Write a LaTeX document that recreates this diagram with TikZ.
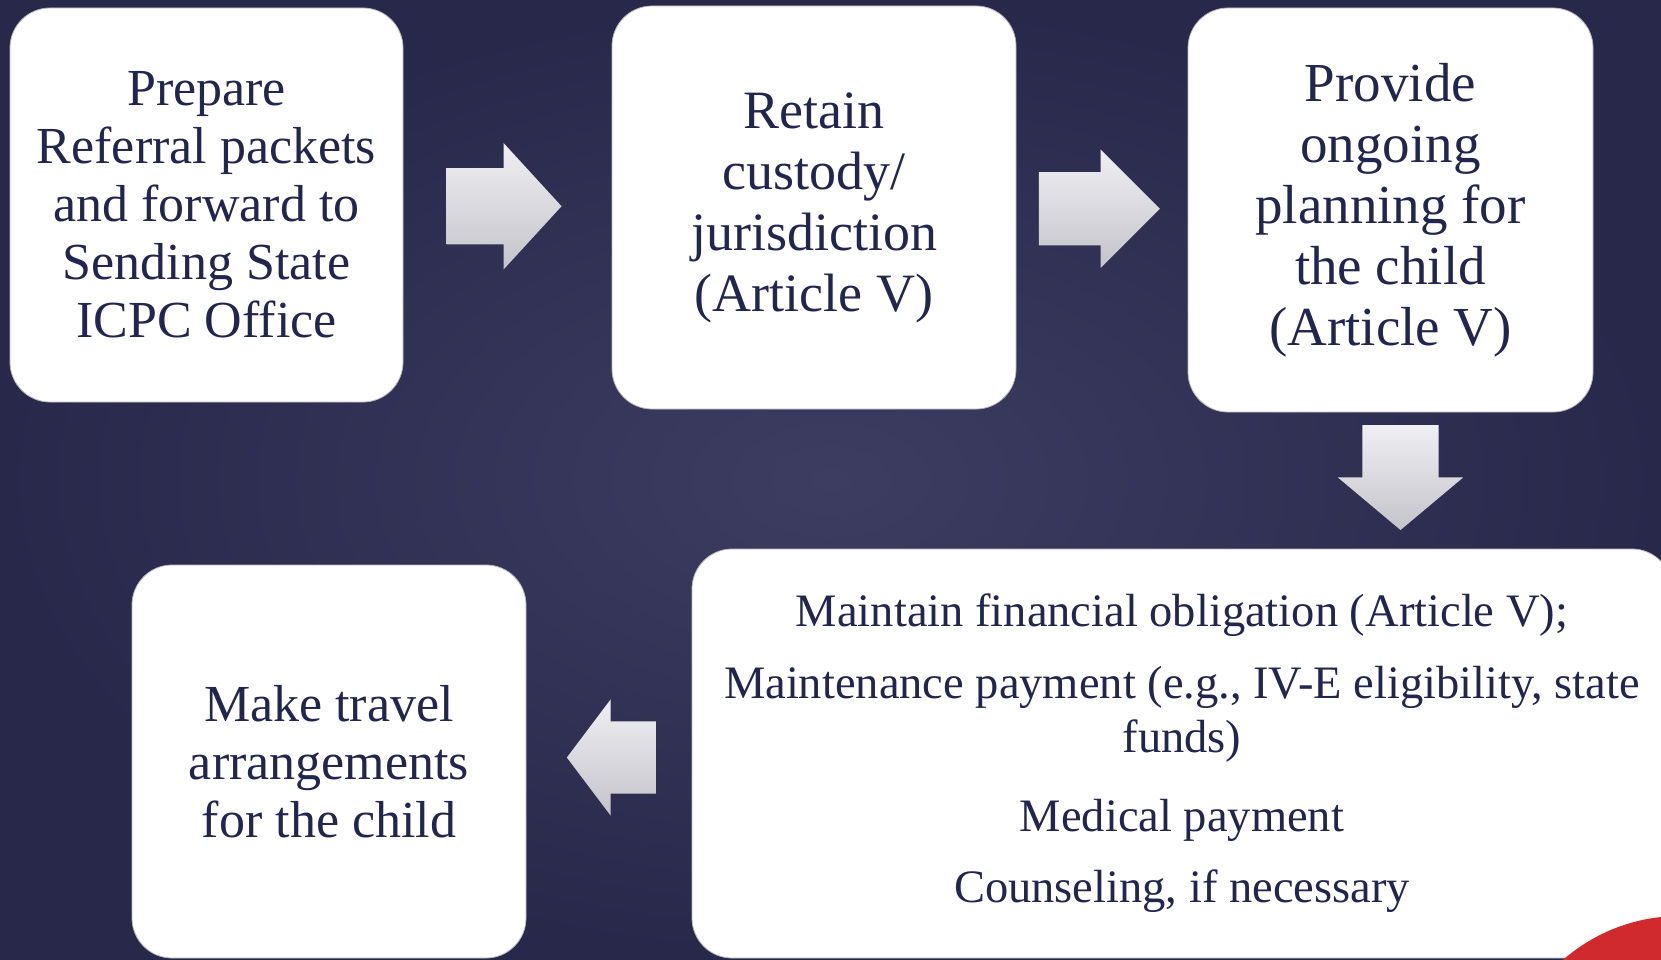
\documentclass[tikz,border=0pt]{standalone}
\usepackage{fontspec}
\setmainfont{Liberation Serif}
\usetikzlibrary{shapes.arrows,calc}
\definecolor{icpcBgDark}{HTML}{28284B}
\definecolor{icpcBgLight}{HTML}{3D3D61}
\definecolor{icpcNavy}{HTML}{22264F}
\definecolor{icpcArrowTop}{HTML}{EFEFF3}
\definecolor{icpcArrowBottom}{HTML}{C3C3CA}
\definecolor{icpcRed}{HTML}{D02A2F}
\definecolor{icpcEdge}{HTML}{B4B4C2}
\tikzset{
  icpc diagram/.style={
    x=1pt, y=-1pt,
    every node/.style={text=icpcNavy, inner sep=0pt, outer sep=0pt}
  },
  icpc box/.style={fill=white, draw=icpcEdge, line width=0.8pt,
    rounded corners=40pt, align=center,
    font=\fontsize{52}{58}\selectfont},
  icpc arrow/.style={single arrow, draw=none,
    top color=icpcArrowTop, bottom color=icpcArrowBottom}
}

\begin{document}
\begin{tikzpicture}[icpc diagram]
    \useasboundingbox (0,0) rectangle (1661,960);
    \clip (0,0) rectangle (1661,960);
    \shade[inner color=icpcBgLight, outer color=icpcBgDark]
      (0,0) rectangle (1661,960);
    \node[icpc box, minimum width=393pt, minimum height=394pt]
      (prep) at (206.5,205)
      {Prepare\\Referral packets\\and forward to\\Sending State\\ICPC Office};
    \node[icpc box, minimum width=404pt, minimum height=403pt,
      font=\fontsize{54}{61}\selectfont]
      (retain) at (814,207.5)
      {Retain\\custody/\\jurisdiction\\(Article V)};
    \node[icpc box, minimum width=405pt, minimum height=404pt,
      font=\fontsize{55}{61}\selectfont]
      (plan) at (1390.5,210)
      {Provide\\ongoing\\planning for\\the child\\(Article V)};
    \node[icpc box, minimum width=980pt, minimum height=409pt,
      font=\fontsize{46.5}{54}\selectfont]
      (money) at (1182,753.5)
      {Maintain financial obligation (Article V);\\[18pt]
       Maintenance payment (e.g., IV-E eligibility, state\\funds)\\[25pt]
       Medical payment\\[17pt]
       Counseling, if necessary};
    \node[icpc box, minimum width=394pt, minimum height=393pt]
      (travel) at (329,761.5)
      {Make travel\\arrangements\\for the child};
    \node[icpc arrow, minimum height=115pt, inner ysep=38pt,
      single arrow head extend=25pt, single arrow tip angle=95,
      xshift=-21pt]
      (go1) at ($(prep.east)!0.5!(retain.west)$) {};
    \node[icpc arrow, minimum height=121pt, inner ysep=36.5pt,
      single arrow head extend=22.5pt, single arrow tip angle=90,
      xshift=-21pt]
      (go2) at ($(retain.east)!0.5!(plan.west)$) {};
    \node[icpc arrow, minimum height=105pt, inner xsep=38pt,
      single arrow head extend=24.5pt, single arrow tip angle=100,
      shape border rotate=270, xshift=10pt, yshift=19pt]
      (go3) at ($(plan.south)!0.5!(plan.south |- money.north)$) {};
    \node[icpc arrow, minimum height=89pt, inner ysep=36pt,
      single arrow head extend=22pt, single arrow tip angle=106,
      shape border rotate=180, xshift=16pt]
      (go4) at ($(money.west)!0.5!(travel.east)$) {};
    \fill[icpcRed] (1680,1094) circle[radius=178pt];
\end{tikzpicture}
\end{document}
